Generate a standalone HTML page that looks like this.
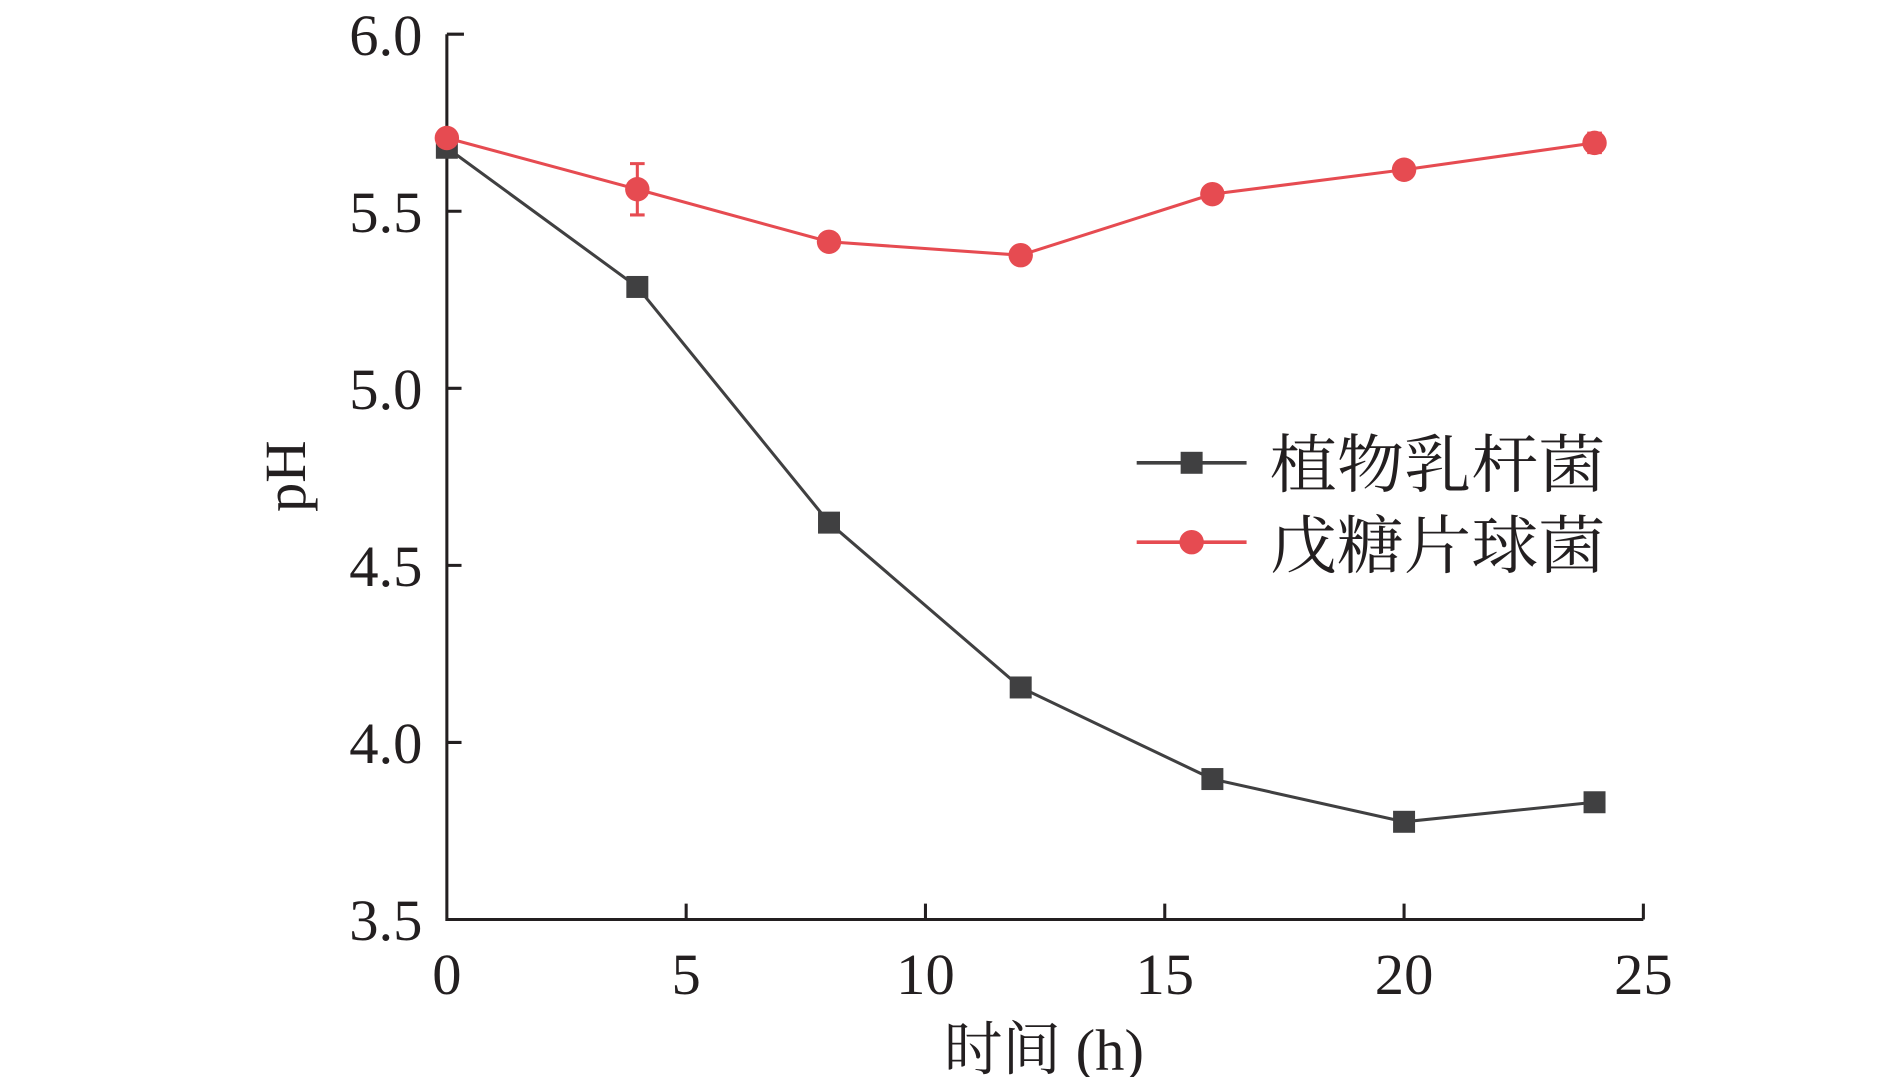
<!DOCTYPE html>
<html><head><meta charset="utf-8"><style>html,body{margin:0;padding:0;background:#fff}svg{display:block}</style></head>
<body>
<svg width="1890" height="1077" viewBox="0 0 1548 882" preserveAspectRatio="none" xmlns="http://www.w3.org/2000/svg">
<g stroke="#231f20" stroke-width="2.5" fill="none">
<path d="M366,28 V753 H1346"/>
<path d="M366,28 h14 M366,173 h12 M366,318 h12 M366,463 h12 M366,608 h12"/>
<path d="M562,753 v-13 M758,753 v-13 M954,753 v-13 M1150,753 v-13 M1346,753 v-13"/>
</g>
<g font-family="Liberation Serif, serif" font-size="48" fill="#231f20" text-anchor="end">
<text x="346" y="45">6.0</text><text x="346" y="190">5.5</text><text x="346" y="335">5.0</text>
<text x="346" y="480">4.5</text><text x="346" y="625">4.0</text><text x="346" y="770">3.5</text>
</g>
<g font-family="Liberation Serif, serif" font-size="48" fill="#231f20" text-anchor="middle">
<text x="366" y="814">0</text><text x="562" y="814">5</text><text x="758" y="814">10</text>
<text x="954" y="814">15</text><text x="1150" y="814">20</text><text x="1346" y="814">25</text>
</g>
<text x="855" y="876" text-anchor="middle" font-family="Liberation Serif, 'Noto Serif CJK SC', serif" font-size="48" fill="#231f20">时间 (h)</text>
<text transform="translate(250,390) rotate(-90)" text-anchor="middle" font-family="Liberation Serif, serif" font-size="48" fill="#231f20">pH</text>
<polyline points="366,121 522,235 679,428 836,563 993,638 1150,673 1306,657" fill="none" stroke="#404041" stroke-width="2.5"/>
<g fill="#404041">
<rect x="357" y="112" width="18" height="18"/><rect x="513" y="226" width="18" height="18"/>
<rect x="670" y="419" width="18" height="18"/><rect x="827" y="554" width="18" height="18"/>
<rect x="984" y="629" width="18" height="18"/><rect x="1141" y="664" width="18" height="18"/>
<rect x="1297" y="648" width="18" height="18"/>
</g>
<polyline points="366,113 522,155 679,198 836,209 993,159 1150,139 1306,117" fill="none" stroke="#e64b51" stroke-width="2.5"/>
<path d="M522,134 V176 M516,134 h12 M516,176 h12 M1306,109 v16 M1300,109 h12 M1300,125 h12" stroke="#e64b51" stroke-width="2.5"/>
<g fill="#e64b51">
<circle cx="366" cy="113" r="10"/><circle cx="522" cy="155" r="10"/><circle cx="679" cy="198" r="10"/>
<circle cx="836" cy="209" r="10"/><circle cx="993" cy="159" r="10"/><circle cx="1150" cy="139" r="10"/>
<circle cx="1306" cy="117" r="10"/>
</g>
<path d="M931,379 H1021" stroke="#404041" stroke-width="3"/>
<rect x="967" y="370" width="18" height="18" fill="#404041"/>
<path d="M931,444 H1021" stroke="#e64b51" stroke-width="3"/>
<circle cx="976" cy="444" r="10" fill="#e64b51"/>
<g font-family="'Noto Serif CJK SC', serif" font-size="52" fill="#231f20">
<text x="1040" y="399" textLength="275" lengthAdjust="spacingAndGlyphs">植物乳杆菌</text>
<text x="1040" y="465" textLength="275" lengthAdjust="spacingAndGlyphs">戊糖片球菌</text>
</g>
</svg>
</body></html>
